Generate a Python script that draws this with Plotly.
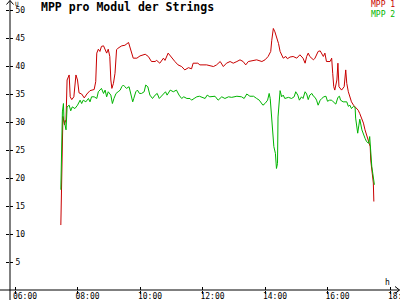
import plotly.graph_objects as go

# ---------------- data ----------------
mpp1_times = ["07:28","07:30","07:32","07:35","07:38","07:40","07:44","07:46","07:49","07:53",
              "07:57","08:00","08:03","08:08","08:13","08:18","08:24","08:32","08:35","08:37",
              "08:40","08:43","08:46","08:50","08:53","08:56","08:59","09:02","09:04","09:06",
              "09:09","09:12","09:15","09:18","09:25","09:31","09:38","09:41","09:44","09:47",
              "09:54","10:00","10:10","10:16","10:22","10:29","10:32","10:38","10:45","10:48",
              "10:54","11:01","11:07","11:13","11:20","11:26","11:33","11:39","11:42","11:51",
              "11:55","12:08","12:21","12:27","12:34","12:40","12:46","12:53","12:59","13:06",
              "13:12","13:18","13:23","13:28","13:34","13:44","13:54","14:00","14:06","14:11",
              "14:13","14:16","14:19","14:22","14:26","14:29","14:32","14:35","14:40","14:43",
              "14:48","14:54","15:01","15:07","15:13","15:17","15:20","15:23","15:26","15:33",
              "15:36","15:42","15:46","15:49","15:52","15:55","15:58","16:05","16:08","16:10",
              "16:12","16:14","16:18","16:20","16:22","16:27","16:32","16:35","16:37","16:40",
              "16:43","16:46","16:50","16:53","16:56","16:59","17:02","17:06","17:09","17:12",
              "17:15","17:18","17:22","17:23","17:25","17:28","17:29"]
mpp1_values = [11.6,22.0,31.0,29.5,30.5,37.5,38.4,34.5,34.0,34.5,
               38.4,37.5,35.2,35.0,34.3,35.0,35.6,35.8,37.2,42.3,
               43.0,42.6,43.5,43.6,43.0,42.3,43.0,41.7,37.5,36.0,
               36.9,38.7,42.9,43.2,43.6,43.7,44.2,43.2,42.3,41.4,
               41.4,41.8,42.1,41.7,40.8,40.8,41.0,40.5,41.4,41.0,
               42.3,41.4,40.8,40.2,39.9,39.3,39.7,39.5,40.5,40.5,
               40.2,40.2,39.9,40.2,40.8,39.9,40.5,40.8,40.5,40.8,
               41.1,40.8,40.2,40.8,40.9,41.1,40.8,41.1,41.7,42.6,
               44.6,46.7,46.1,45.2,44.0,42.6,42.0,41.4,41.7,41.3,
               41.6,41.7,41.4,42.0,41.4,40.5,41.7,42.3,41.7,41.1,
               41.4,42.6,42.7,42.3,41.7,42.3,40.8,40.8,41.4,38.7,
               36.3,35.7,37.5,40.5,36.3,35.7,36.3,39.3,36.9,35.4,
               34.5,33.6,33.0,32.7,32.4,32.1,31.5,30.7,29.8,28.6,
               27.7,27.1,25.6,23.2,21.1,19.1,15.8]

mpp2_times = ["07:28","07:31","07:33","07:34","07:38","07:40","07:44","07:47","07:50","07:55",
              "08:00","08:05","08:08","08:11","08:16","08:21","08:24","08:27","08:32","08:37",
              "08:40","08:43","08:46","08:50","08:53","08:56","08:59","09:04","09:07","09:10",
              "09:14","09:18","09:22","09:25","09:28","09:31","09:34","09:39","09:43","09:46",
              "09:48","09:52","09:55","09:59","10:03","10:08","10:11","10:15","10:19","10:24",
              "10:29","10:33","10:37","10:40","10:45","10:49","10:52","10:58","11:04","11:10",
              "11:15","11:20","11:24","11:30","11:36","11:39","11:44","11:49","11:54","12:05",
              "12:09","12:14","12:24","12:30","12:37","12:43","12:50","12:56","13:06","13:15",
              "13:20","13:25","13:31","13:38","13:44","13:49","13:56","14:00","14:05","14:08",
              "14:10","14:13","14:15","14:17","14:20","14:22","14:24","14:25","14:29","14:32",
              "14:35","14:38","14:45","14:51","14:56","14:59","15:03","15:06","15:10","15:13",
              "15:17","15:20","15:23","15:26","15:30","15:33","15:36","15:39","15:42","15:46",
              "15:49","15:53","15:57","16:00","16:04","16:08","16:11","16:16","16:20","16:23",
              "16:25","16:30","16:37","16:40","16:43","16:46","16:50","16:53","16:54","16:56",
              "16:58","17:00","17:02","17:06","17:09","17:12","17:15","17:19","17:21","17:23",
              "17:25","17:27","17:30"]
mpp2_values = [17.9,31.8,33.3,30.4,28.6,32.7,33.0,32.0,32.7,32.4,
               33.0,33.9,33.3,33.9,33.6,34.2,33.6,34.5,34.5,34.2,
               35.4,35.7,36.0,35.1,35.7,34.5,35.4,34.8,33.3,34.2,
               35.1,35.4,35.7,36.3,36.6,36.3,36.0,36.3,34.8,33.6,
               34.2,35.4,35.7,35.1,35.1,35.4,36.6,36.3,34.8,34.2,
               34.8,35.1,34.2,34.5,35.1,35.4,34.8,35.7,35.4,35.7,
               34.8,34.2,34.5,34.2,34.2,33.9,34.2,34.5,34.6,34.2,
               34.8,34.5,34.6,33.9,34.5,34.2,34.5,34.4,34.6,34.5,
               34.2,35.0,34.6,34.6,34.2,33.9,33.0,33.3,33.9,35.1,
               34.2,30.4,28.0,25.6,24.4,21.7,22.6,30.9,35.6,34.5,
               34.8,34.2,34.4,34.2,34.5,35.4,34.8,33.9,34.5,34.2,
               35.4,35.0,34.0,34.8,35.1,34.6,34.4,33.9,33.0,33.9,
               34.2,34.5,34.6,33.7,33.9,33.9,33.6,33.2,34.4,34.6,
               33.9,33.6,33.6,32.8,33.0,32.4,32.8,32.6,30.7,29.3,
               28.0,29.3,30.5,28.6,27.7,27.1,26.5,26.2,27.4,24.4,
               22.1,20.8,18.8]

x_tick_hours = [6, 8, 10, 12, 14, 16, 18]
x_tick_labels = ["06:00", "08:00", "10:00", "12:00", "14:00", "16:00", "18:00"]
y_tick_vals = [5, 10, 15, 20, 25, 30, 35, 40, 45, 50]
y_tick_labels = ["5", "10", "15", "20", "25", "30", "35", "40", "45", "50"]

series_names = ["MPP 1", "MPP 2"]
series_colors = ["#c80000", "#00b400"]
title_text = "MPP pro Modul der Strings"


def to_hours(t):
    h, m = t.split(":")
    return int(h) + int(m) / 60.0


# ---------------- layout geometry ----------------
W, H = 400, 300
ML, MB = 10, 10
PW, PH = W - ML, H - MB
X_RANGE = [6 - 5 / 31.25, 6 + 385 / 31.25]
Y_RANGE = [0, PH / 5.6]
FONT = "DejaVu Sans Mono"


def px(x):
    return (x - ML) / PW


def py(y):
    return (PH - y) / PH


fig = go.Figure()
fig.add_trace(go.Scatter(x=[to_hours(t) for t in mpp1_times], y=mpp1_values,
                         mode="lines", line=dict(color=series_colors[0], width=1),
                         name=series_names[0], showlegend=False))
fig.add_trace(go.Scatter(x=[to_hours(t) for t in mpp2_times], y=mpp2_values,
                         mode="lines", line=dict(color=series_colors[1], width=1),
                         name=series_names[1], showlegend=False))
# invisible trace to realise the overlay axes (opposite-side tick halves)
fig.add_trace(go.Scatter(x=[None], y=[None], xaxis="x2", yaxis="y2",
                         showlegend=False, hoverinfo="skip"))

axis_font = dict(family=FONT, size=8, color="black")
fig.update_layout(
    width=W, height=H,
    margin=dict(l=ML, r=0, t=0, b=MB, pad=0, autoexpand=False),
    paper_bgcolor="white", plot_bgcolor="white",
    showlegend=False,
    xaxis=dict(range=X_RANGE, tickmode="array", tickvals=x_tick_hours,
               ticktext=x_tick_labels, ticks="outside", ticklen=3, tickwidth=1,
               tickcolor="black", showgrid=False, zeroline=False, showline=False,
               tickfont=axis_font, ticklabelshift=10, ticklabelstandoff=-5,
               ticklabeloverflow="allow", automargin=False),
    yaxis=dict(range=Y_RANGE, tickmode="array", tickvals=y_tick_vals,
               ticktext=y_tick_labels, ticks="inside", ticklen=3, tickwidth=1,
               tickcolor="black", showgrid=False, zeroline=False, showline=False,
               ticklabelposition="inside", tickfont=axis_font, ticklabelstandoff=1,
               ticklabeloverflow="allow", automargin=False),
    xaxis2=dict(range=X_RANGE, overlaying="x", tickmode="array", tickvals=x_tick_hours,
                ticks="inside", ticklen=3, tickwidth=1, tickcolor="black",
                showticklabels=False, showgrid=False, zeroline=False, showline=False,
                side="bottom", anchor="y2", automargin=False),
    yaxis2=dict(range=Y_RANGE, overlaying="y", tickmode="array", tickvals=y_tick_vals,
                ticks="outside", ticklen=3, tickwidth=1, tickcolor="black",
                showticklabels=False, showgrid=False, zeroline=False, showline=False,
                side="left", anchor="x2", automargin=False),
)

line_style = dict(color="black", width=1)
shapes = [
    # x axis line, crossing beyond the y axis
    dict(type="line", xref="paper", yref="paper", x0=px(0), x1=px(399.5), y0=py(290), y1=py(290), line=line_style),
    # y axis line, crossing beyond the x axis
    dict(type="line", xref="paper", yref="paper", x0=px(10), x1=px(10), y0=py(300), y1=py(0.5), line=line_style),
    # arrow heads
    dict(type="path", xref="paper", yref="paper",
         path=f"M {px(395)} {py(286.5)} L {px(399.5)} {py(290)} L {px(395)} {py(293.5)}", line=line_style),
    dict(type="path", xref="paper", yref="paper",
         path=f"M {px(6.5)} {py(4.5)} L {px(10)} {py(0.5)} L {px(13.5)} {py(4.5)}", line=line_style),
]
fig.update_layout(shapes=shapes)

legend_text = "<br>".join(
    f"<span style='color:{c}'>{n}</span>" for n, c in zip(series_names, series_colors))

annotations = [
    dict(text=f"<b>{title_text}</b>", x=px(40), y=py(7), xref="paper", yref="paper",
         xanchor="left", yanchor="middle", showarrow=False,
         font=dict(family=FONT, size=11.5, color="black")),
    dict(text="U", x=px(13.5), y=py(3), xref="paper", yref="paper",
         xanchor="left", yanchor="middle", showarrow=False,
         font=dict(family=FONT, size=6, color="black")),
    dict(text="h", x=px(384), y=py(282), xref="paper", yref="paper",
         xanchor="left", yanchor="middle", showarrow=False,
         font=dict(family=FONT, size=8, color="black")),
    dict(text=legend_text, x=px(396), y=py(10), xref="paper", yref="paper",
         xanchor="right", yanchor="middle", align="right", showarrow=False,
         font=dict(family=FONT, size=8, color="black")),
]
for a in annotations:
    a["borderpad"] = 0
fig.update_layout(annotations=annotations)

fig.write_html("out.html")
